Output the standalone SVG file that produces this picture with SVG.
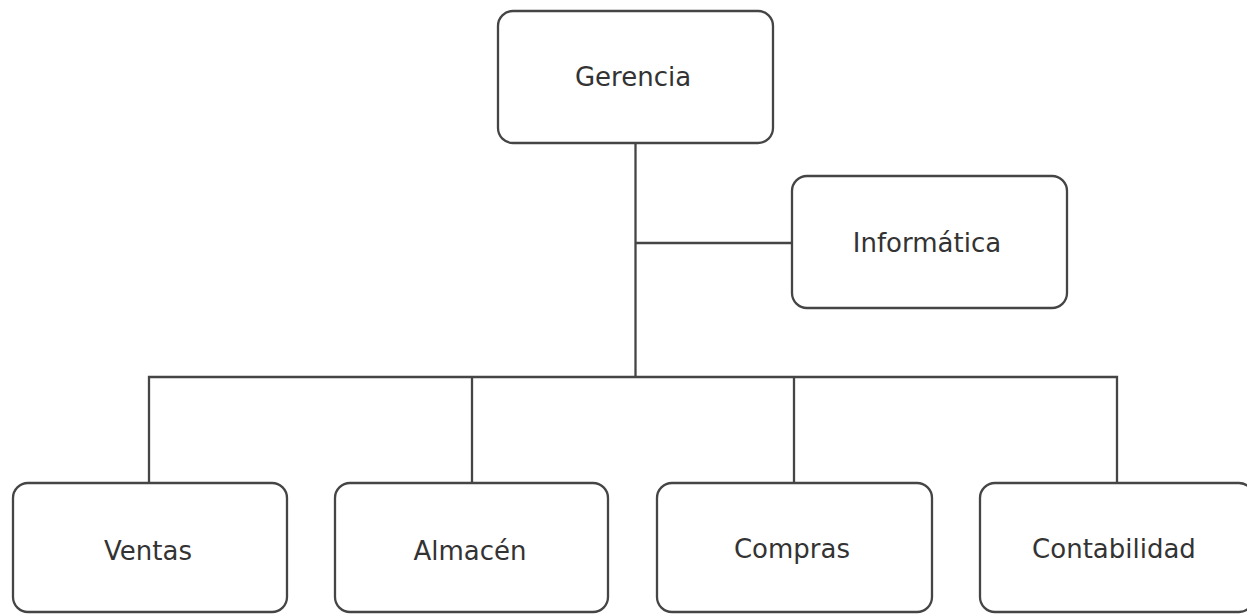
<svg xmlns="http://www.w3.org/2000/svg" width="1247" height="614" viewBox="0 0 1247 614">
<style>
.box{fill:#fff;stroke:#454545;stroke-width:2.3}
.lbl{font-family:"DejaVu Sans","Verdana",sans-serif;font-size:26px;fill:#333;text-anchor:middle;dominant-baseline:central}
.conn{fill:none;stroke:#454545;stroke-width:2.3}
</style>
<rect width="1247" height="614" fill="#fff"/>
<g id="connectors">
<path class="conn" d="M635.5 143 V377"/>
<path class="conn" d="M635.5 243 H792"/>
<path class="conn" d="M149 483 V377 H1117 V483"/>
<path class="conn" d="M472 377 V483"/>
<path class="conn" d="M794 377 V483"/>
</g>
<g id="gerencia"><rect class="box" x="498" y="11" width="275" height="132" rx="15"/><text class="lbl" x="633" y="77">Gerencia</text></g>
<g id="informatica"><rect class="box" x="792" y="176" width="275" height="132" rx="15"/><text class="lbl" x="927" y="243">Informática</text></g>
<g id="ventas"><rect class="box" x="13" y="483" width="274" height="129" rx="15"/><text class="lbl" x="148" y="551">Ventas</text></g>
<g id="almacen"><rect class="box" x="335" y="483" width="273" height="129" rx="15"/><text class="lbl" x="470" y="551">Almacén</text></g>
<g id="compras"><rect class="box" x="657" y="483" width="275" height="129" rx="15"/><text class="lbl" x="792" y="549">Compras</text></g>
<g id="contabilidad"><rect class="box" x="980" y="483" width="274" height="129" rx="15"/><text class="lbl" x="1114" y="549">Contabilidad</text></g>
</svg>
